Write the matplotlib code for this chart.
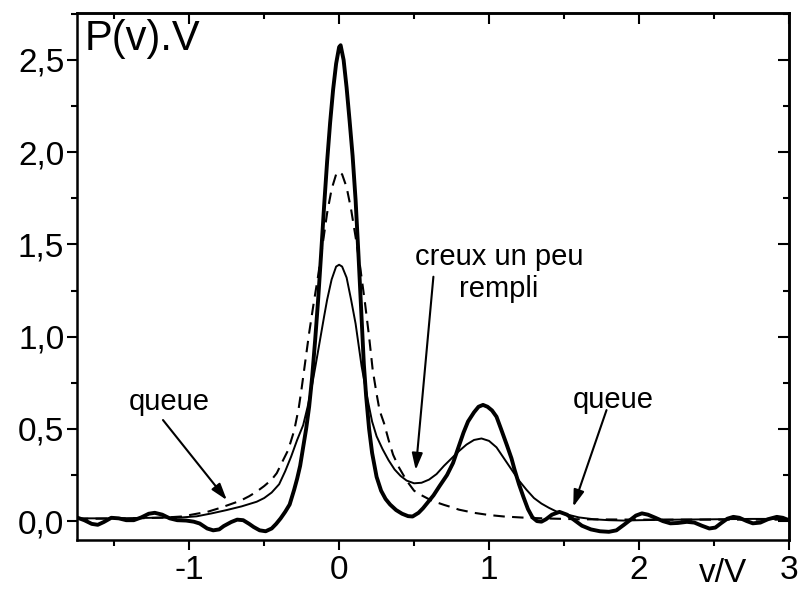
import matplotlib
matplotlib.use("Agg")
import matplotlib.pyplot as plt
from matplotlib.ticker import MultipleLocator

plt.rcParams['font.family'] = ['Liberation Sans', 'DejaVu Sans']

# courbe epaisse
x_thick = [-1.75, -1.70, -1.65, -1.61, -1.57, -1.52, -1.47, -1.42, -1.37, -1.32,
           -1.27, -1.23, -1.18, -1.13, -1.08, -1.02, -0.97, -0.93, -0.88, -0.84,
           -0.80, -0.77, -0.72, -0.68, -0.64, -0.60, -0.57, -0.53, -0.49, -0.45,
           -0.42, -0.39, -0.36, -0.33, -0.30, -0.28, -0.26, -0.24, -0.22, -0.20,
           -0.18, -0.16, -0.14, -0.12, -0.10, -0.08, -0.06, -0.04, -0.02, 0.00,
           0.01, 0.03, 0.05, 0.07, 0.09, 0.11, 0.13, 0.15, 0.165, 0.18,
           0.20, 0.22, 0.25, 0.28, 0.31, 0.34, 0.38, 0.42, 0.46, 0.49,
           0.53, 0.56, 0.59, 0.63, 0.67, 0.72, 0.76, 0.80, 0.83, 0.86,
           0.90, 0.93, 0.96, 0.99, 1.02, 1.05, 1.08, 1.12, 1.15, 1.17,
           1.20, 1.23, 1.26, 1.29, 1.32, 1.35, 1.38, 1.42, 1.47, 1.52,
           1.57, 1.62, 1.68, 1.74, 1.80, 1.85, 1.90, 1.94, 1.98, 2.02,
           2.06, 2.11, 2.16, 2.21, 2.26, 2.32, 2.37, 2.42, 2.47, 2.51,
           2.55, 2.59, 2.63, 2.67, 2.72, 2.76, 2.81, 2.86, 2.92, 2.96, 3.00]
y_thick = [0.020, 0.005, -0.015, -0.020, -0.005, 0.018, 0.015, 0.005, 0.005, 0.020,
           0.040, 0.045, 0.035, 0.015, 0.005, 0.003, -0.003, -0.013, -0.040, -0.050,
           -0.045, -0.027, -0.005, 0.008, 0.005, -0.015, -0.032, -0.050, -0.055, -0.040,
           -0.015, 0.015, 0.050, 0.090, 0.170, 0.230, 0.300, 0.400, 0.500, 0.620,
           0.780, 0.980, 1.200, 1.450, 1.710, 1.950, 2.160, 2.340, 2.480, 2.570,
           2.580, 2.500, 2.350, 2.170, 1.980, 1.740, 1.430, 1.100, 0.850, 0.680,
           0.500, 0.370, 0.240, 0.165, 0.120, 0.090, 0.060, 0.040, 0.027, 0.025,
           0.045, 0.070, 0.100, 0.140, 0.190, 0.250, 0.315, 0.410, 0.480, 0.540,
           0.590, 0.620, 0.630, 0.620, 0.600, 0.566, 0.500, 0.410, 0.340, 0.280,
           0.200, 0.130, 0.065, 0.020, 0.000, -0.003, 0.010, 0.035, 0.050, 0.035,
           0.005, -0.025, -0.045, -0.055, -0.058, -0.050, -0.020, 0.005, 0.030, 0.042,
           0.035, 0.018, 0.000, -0.012, -0.010, -0.004, -0.008, -0.025, -0.040, -0.035,
           -0.010, 0.013, 0.023, 0.018, 0.000, -0.012, -0.008, 0.010, 0.023, 0.018, 0.005]

# courbe fine
x_thin = [-1.75, -1.50, -1.25, -1.05, -0.95, -0.85, -0.75, -0.65, -0.55, -0.50,
          -0.45, -0.40, -0.36, -0.32, -0.28, -0.24, -0.21, -0.18, -0.16, -0.13,
          -0.10, -0.08, -0.05, -0.02, 0.00, 0.02, 0.05, 0.08, 0.11, 0.15,
          0.19, 0.22, 0.25, 0.29, 0.33, 0.37, 0.41, 0.45, 0.50, 0.55,
          0.60, 0.65, 0.70, 0.75, 0.80, 0.85, 0.90, 0.95, 1.00, 1.05,
          1.10, 1.15, 1.20, 1.25, 1.30, 1.35, 1.40, 1.45, 1.50, 1.60,
          1.70, 1.80, 1.90, 2.00, 2.25, 2.50, 2.75, 3.00]
y_thin = [0.015, 0.015, 0.018, 0.020, 0.026, 0.042, 0.060, 0.080, 0.105, 0.125,
          0.155, 0.200, 0.270, 0.350, 0.440, 0.520, 0.620, 0.740, 0.830, 0.970,
          1.110, 1.200, 1.310, 1.380, 1.390, 1.380, 1.320, 1.200, 1.070, 0.840,
          0.660, 0.540, 0.460, 0.390, 0.330, 0.280, 0.245, 0.220, 0.205, 0.208,
          0.225, 0.255, 0.300, 0.340, 0.380, 0.415, 0.440, 0.448, 0.435, 0.400,
          0.340, 0.280, 0.220, 0.170, 0.125, 0.095, 0.072, 0.052, 0.040, 0.020,
          0.010, 0.005, 0.003, 0.005, 0.008, 0.010, 0.012, 0.012]

# courbe en tirets
x_dash = [-1.75, -1.50, -1.30, -1.15, -1.05, -0.95, -0.88, -0.80, -0.73, -0.66,
          -0.60, -0.55, -0.50, -0.45, -0.416, -0.38, -0.34, -0.30, -0.27, -0.25,
          -0.22, -0.20, -0.17, -0.14, -0.11, -0.08, -0.05, -0.02, 0.00, 0.02,
          0.05, 0.08, 0.11, 0.14, 0.173, 0.20, 0.224, 0.25, 0.27, 0.30,
          0.33, 0.36, 0.40, 0.45, 0.50, 0.55, 0.62, 0.70, 0.74, 0.80,
          0.90, 1.00, 1.10, 1.25, 1.40, 1.60, 2.00, 2.50, 3.00]
y_dash = [0.012, 0.014, 0.016, 0.020, 0.025, 0.040, 0.050, 0.070, 0.090, 0.110,
          0.135, 0.160, 0.190, 0.225, 0.260, 0.320, 0.385, 0.490, 0.610, 0.720,
          0.900, 1.020, 1.180, 1.330, 1.500, 1.670, 1.800, 1.880, 1.895, 1.880,
          1.810, 1.690, 1.540, 1.380, 1.180, 1.000, 0.820, 0.690, 0.600, 0.530,
          0.440, 0.360, 0.290, 0.220, 0.165, 0.140, 0.110, 0.088, 0.078, 0.062,
          0.045, 0.033, 0.025, 0.018, 0.014, 0.010, 0.008, 0.008, 0.008]

x_major = [-1, 0, 1, 2, 3]
x_labels = ['-1', '0', '1', '2', '3']
y_major = [0.0, 0.5, 1.0, 1.5, 2.0, 2.5]
y_labels = ['0,0', '0,5', '1,0', '1,5', '2,0', '2,5']

fig = plt.figure(figsize=(8, 5.89), dpi=100)
ax = fig.add_axes([0.096, 0.083, 0.890, 0.895])

ax.plot(x_dash, y_dash, color='black', lw=1.5, linestyle=(0, (5.5, 3.5)))
ax.plot(x_thin, y_thin, color='black', lw=1.4)
ax.plot(x_thick, y_thick, color='black', lw=2.8)

ax.set_xlim(-1.75, 3.0)
ax.set_ylim(-0.103, 2.755)

ax.set_xticks(x_major)
ax.set_xticklabels(x_labels)
ax.set_yticks(y_major)
ax.set_yticklabels(y_labels)
ax.xaxis.set_minor_locator(MultipleLocator(0.5))
ax.yaxis.set_minor_locator(MultipleLocator(0.25))
ax.tick_params(which='both', direction='out', width=1.5, labelsize=24)
ax.tick_params(which='major', length=7)
ax.tick_params(which='minor', length=4)
ax.tick_params(axis='y', pad=2)
ax.tick_params(axis='x', pad=4)
for sp in ax.spines.values():
    sp.set_linewidth(1.8)

# ticks internes en haut et a droite
top = ax.secondary_xaxis('top')
top.set_xticks(x_major)
top.xaxis.set_minor_locator(MultipleLocator(0.5))
top.tick_params(which='both', direction='in', width=1.5, labeltop=False)
top.tick_params(which='major', length=8)
top.tick_params(which='minor', length=4)
top.spines['top'].set_linewidth(1.8)
right = ax.secondary_yaxis('right')
right.set_yticks(y_major)
right.yaxis.set_minor_locator(MultipleLocator(0.25))
right.tick_params(which='both', direction='in', width=1.5, labelright=False)
right.tick_params(which='major', length=8)
right.tick_params(which='minor', length=4)
right.spines['right'].set_linewidth(1.8)

ax.text(-1.70, 2.72, 'P(v).V', fontsize=30, ha='left', va='top')
ax.text(2.56, -0.080, 'v/V', fontsize=24, ha='center', va='baseline',
        transform=ax.get_xaxis_transform())

arrow = dict(arrowstyle='-|>,head_length=0.5,head_width=0.16', color='black',
             lw=1.5, mutation_scale=20, shrinkA=0, shrinkB=0)
ax.annotate('', xy=(-0.749, 0.114), xytext=(-1.175, 0.548), arrowprops=arrow)
ax.annotate('', xy=(1.562, 0.078), xytext=(1.784, 0.602), arrowprops=arrow)
ax.annotate('', xy=(0.511, 0.277), xytext=(0.629, 1.325), arrowprops=arrow)

ax.text(-1.133, 0.645, 'queue', fontsize=21, ha='center', va='center')
ax.text(1.83, 0.656, 'queue', fontsize=21, ha='center', va='center')
ax.text(1.065, 1.345, 'creux un peu\nrempli', fontsize=21, ha='center',
        va='center', multialignment='center', linespacing=1.15)

fig.savefig('out.png', dpi=100)
